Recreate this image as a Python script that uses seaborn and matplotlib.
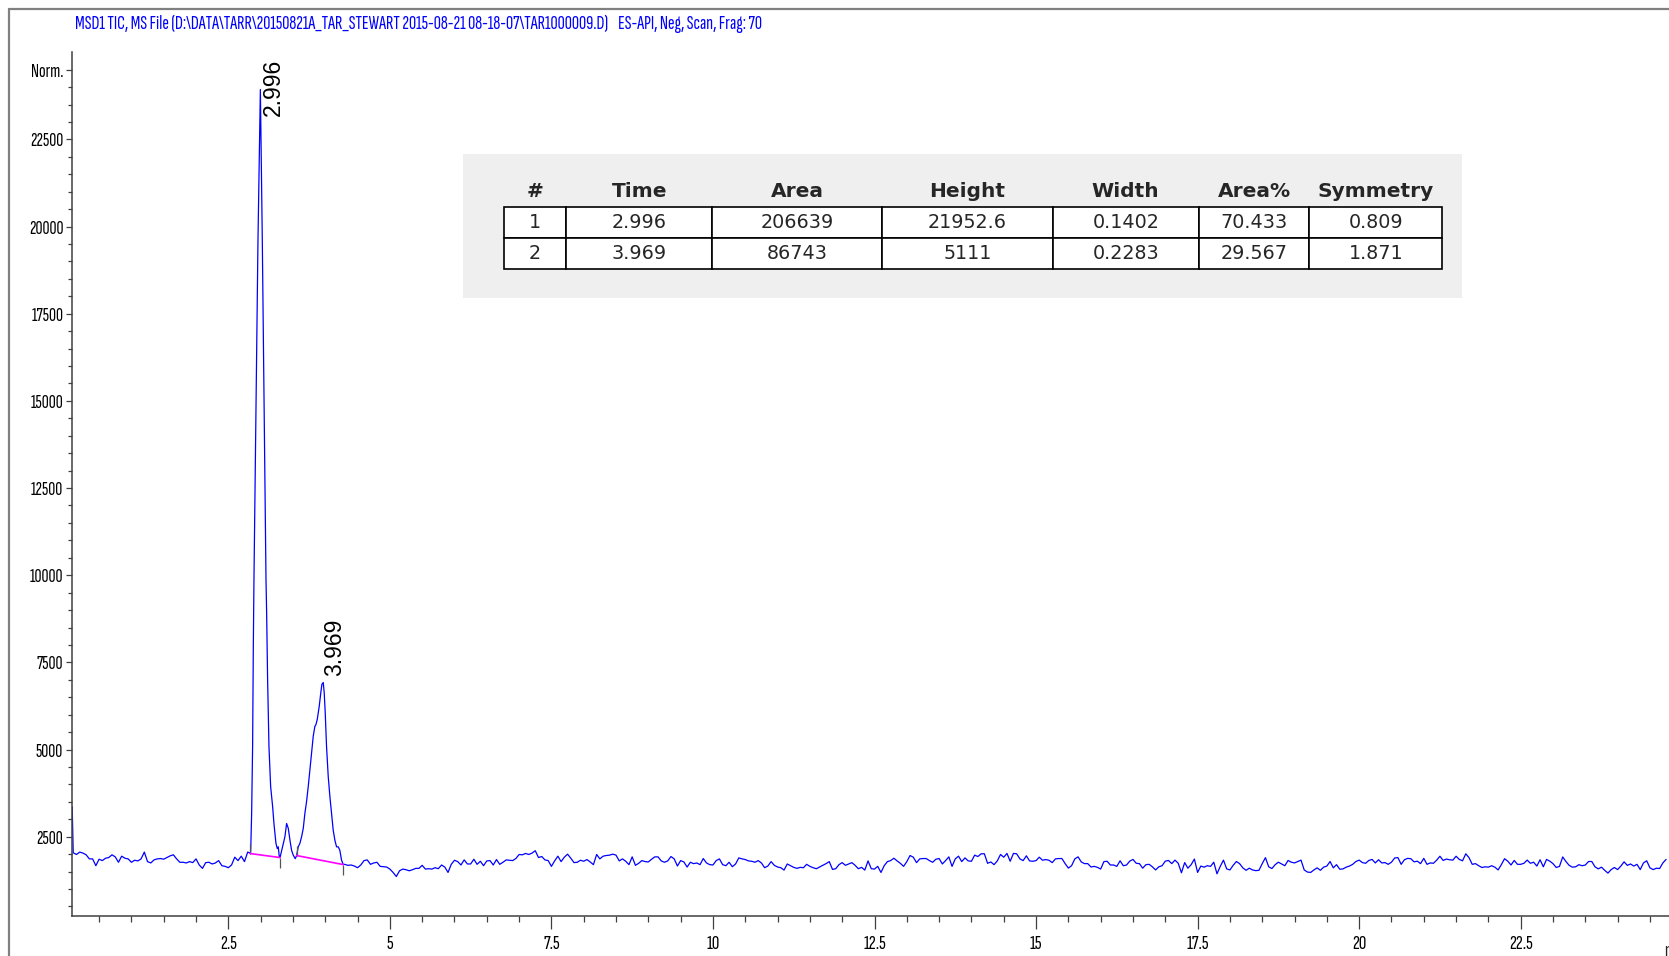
import numpy as np
import pandas as pd
import matplotlib
matplotlib.use("Agg")
import matplotlib.pyplot as plt
from matplotlib.lines import Line2D
from matplotlib.patches import Rectangle
from matplotlib.ticker import MultipleLocator, FixedLocator, FixedFormatter, FuncFormatter
import seaborn as sns

# ---------------------------------------------------------------- data
TITLE = ("MSD1 TIC, MS File (D:\\DATA\\TARR\\20150821A_TAR_STEWART 2015-08-21 "
         "08-18-07\\TAR1000009.D)    ES-API, Neg, Scan, Frag: 70")

scan_step = 0.05  # min between stored TIC points on the flat stretches

first_scan_time = 0.084
first_scan_signal = 3360

# TIC before the peaks, 0.10 .. 2.80 min
tic_early = [2039, 1990, 2059, 2030, 1981, 1864, 1864, 1669, 1855, 1815,
             1883, 1903, 1981, 1922, 1767, 1942, 1883, 1864, 1767, 1825,
             1806, 1864, 2059, 1786, 1747, 1835, 1864, 1874, 1855, 1903,
             1951, 1981, 1864, 1767, 1767, 1747, 1786, 1757, 1864, 1689,
             1592, 1757, 1767, 1718, 1747, 1815, 1669, 1650, 1611, 1689,
             1913, 1815, 1942, 1786, 2059]

# TIC across the two integrated peaks
peak_times = [2.835, 2.846, 2.861, 2.876, 2.887, 2.897, 2.959, 2.996, 3.026,
              3.083, 3.093, 3.108, 3.129, 3.155, 3.186, 3.206, 3.237, 3.258,
              3.273, 3.289, 3.299, 3.309, 3.340, 3.376, 3.402, 3.428, 3.454,
              3.479, 3.505, 3.536, 3.557, 3.582, 3.608, 3.634, 3.660, 3.685,
              3.711, 3.737, 3.763, 3.789, 3.814, 3.840, 3.855, 3.876, 3.907,
              3.928, 3.948, 3.969, 3.984, 4.000, 4.020, 4.046, 4.072, 4.098,
              4.123, 4.149, 4.175, 4.201, 4.226, 4.252, 4.278]
peak_signal = [2030, 2060, 3170, 5090, 7970, 9890, 19600, 23931, 19600,
               9890, 8930, 7010, 5090, 3940, 3360, 2880, 2310, 2160,
               2210, 1920, 1903, 1970, 2210, 2500, 2880, 2740, 2400,
               2110, 1970, 1870, 1960, 2210, 2310, 2500, 2740, 3170,
               3510, 3940, 4420, 4900, 5380, 5670, 5710, 5860, 6240,
               6580, 6870, 6923, 6630, 6050, 5090, 4230, 3650, 3170,
               2690, 2400, 2210, 2210, 2110, 1830, 1701]

# TIC after the peaks, 4.30 .. 24.75 min
tic_late = [
    1708, 1679, 1689, 1660, 1611, 1689, 1815, 1835, 1708, 1747,
    1767, 1650, 1640, 1630, 1572, 1475, 1358, 1523, 1572, 1553,
    1523, 1553, 1592, 1592, 1679, 1572, 1582, 1572, 1611, 1582,
    1689, 1630, 1475, 1708, 1825, 1786, 1689, 1835, 1718, 1718,
    1854, 1708, 1796, 1669, 1806, 1815, 1689, 1845, 1708, 1767,
    1835, 1825, 1815, 1874, 1990, 1981, 2020, 1990, 2030, 2098,
    1903, 1932, 1835, 1815, 1650, 1806, 1942, 1786, 1913, 2000,
    1883, 1757, 1767, 1825, 1796, 1845, 1776, 1699, 1990,
    1864, 1942, 1961, 1971, 2000, 1971, 1806, 1864, 1796, 1699,
    1922, 1679, 1737, 1815, 1786, 1776, 1854, 1922, 1922, 1806,
    1767, 1806, 1932, 1864, 1660, 1815, 1776, 1631, 1767, 1728,
    1747, 1699, 1874, 1747, 1699, 1689, 1815, 1864, 1699, 1669,
    1767, 1640, 1718, 1893, 1864, 1845, 1806, 1796, 1767, 1815,
    1747, 1611, 1660, 1786, 1679, 1631, 1611, 1543, 1718, 1669,
    1621, 1592, 1621, 1611, 1708, 1650, 1611, 1582, 1630, 1679,
    1728, 1786, 1562, 1582, 1699, 1757, 1679, 1718, 1757, 1679,
    1582, 1621, 1543, 1806, 1582, 1572, 1650, 1475, 1669, 1786,
    1815, 1883, 1806, 1737, 1650, 1786, 1961, 1913, 1757, 1864,
    1874, 1874, 1815, 1767, 1854, 1874, 1718, 1815, 1922, 1650,
    1864, 1942, 1786, 1893, 1806, 1796, 1971, 1932, 2010, 2010,
    1737, 1776, 1699, 1806, 1990, 1913, 2020, 1796, 2020, 2010,
    1864, 1815, 1952, 1806, 1796, 1815, 1913, 1825, 1845, 1825,
    1757, 1864, 1874, 1874, 1728, 1601, 1669, 1864, 1922, 1776,
    1728, 1728, 1631, 1650, 1621, 1572, 1786, 1796, 1689, 1689,
    1650,
    1809, 1668, 1688, 1799, 1849, 1738, 1728, 1597, 1698, 1708,
    1637, 1547, 1637, 1668, 1799, 1819, 1728, 1829, 1738, 1466,
    1758, 1597, 1698, 1859, 1476, 1658, 1627, 1668, 1648, 1769,
    1436, 1648, 1829, 1577, 1547, 1678, 1789, 1728, 1607, 1537,
    1597, 1547, 1527, 1537, 1728, 1900, 1637, 1587, 1698, 1769,
    1718, 1668, 1819, 1769, 1748, 1789, 1829, 1547, 1486, 1476,
    1547, 1607, 1537, 1627, 1658, 1789, 1607, 1698, 1567, 1577,
    1627, 1658, 1708, 1789, 1829, 1758, 1738, 1819, 1849, 1748,
    1839, 1748, 1758, 1708, 1769, 1890, 1900, 1708, 1839, 1879,
    1869, 1779, 1799, 1728, 1879, 1708, 1748, 1738, 1829, 1940,
    1819, 1859, 1839, 1829, 1940, 1849, 1809, 2010, 1900, 1708,
    1728, 1668, 1617, 1637, 1627, 1668, 1627, 1547, 1698, 1869,
    1799, 1688, 1819, 1708, 1708, 1738, 1829, 1738, 1769, 1658,
    1839, 1637, 1849, 1799, 1728, 1617, 1648, 1920, 1789, 1678,
    1627, 1637, 1698, 1668, 1688, 1789, 1789, 1637, 1577, 1627,
    1537, 1456, 1557, 1617, 1557, 1658, 1779, 1678, 1718, 1658,
    1708, 1557, 1748, 1809, 1607, 1557, 1597, 1587, 1748, 1849,
]

# integration baselines (start / end of each peak)
peak_start_time = [2.835, 3.557]
peak_start_level = [2018, 1960]
peak_end_time = [3.299, 4.278]
peak_end_level = [1903, 1701]

# integration report
table_header = ["#", "Time", "Area", "Height", "Width", "Area%", "Symmetry"]
peak_no = [1, 2]
ret_time = [2.996, 3.969]
peak_area = [206639, 86743]
peak_height = [21952.6, 5111]
peak_width = [0.1402, 0.2283]
area_pct = [70.433, 29.567]
symmetry = [0.809, 1.871]
apex_signal = [23931, 6923]

y_major = [2500, 5000, 7500, 10000, 12500, 15000, 17500, 20000, 22500, 24500]
y_labels = ["2500", "5000", "7500", "10000", "12500", "15000", "17500",
            "20000", "22500", "Norm."]

# ---------------------------------------------------------------- frame
t_early = 0.10 + scan_step * np.arange(len(tic_early))
t_late = 4.30 + scan_step * np.arange(len(tic_late))
tic = pd.DataFrame({
    "time": np.concatenate([[first_scan_time], t_early, peak_times, t_late]),
    "signal": np.concatenate([[first_scan_signal], tic_early, peak_signal, tic_late]),
})

sns.set_style("white")
NARROW = ["Sofia Sans Extra Condensed", "Pathway Gothic One", "DejaVu Sans"]
plt.rcParams["font.family"] = NARROW

W, H = 1669, 956
fig = plt.figure(figsize=(W / 100, H / 100), dpi=100)
fig.patch.set_facecolor("white")

# plot area in pixels: x from 72 to 1681.6, y from 52.4 to 916 (top-down)
ax = fig.add_axes([72 / W, (H - 916) / H, 1609.6 / W, (916 - 52.4) / H])
ax.set_zorder(0)
sns.lineplot(data=tic, x="time", y="signal", ax=ax, color="#0000ff",
             linewidth=0.9, estimator=None, sort=True)
ax.set_xlim(0.081, 24.99)
ax.set_ylim(226, 24995)
ax.set_xlabel("")
ax.set_ylabel("")
ax.set_facecolor("white")

for side in ("top", "right"):
    ax.spines[side].set_visible(False)
for side in ("left", "bottom"):
    ax.spines[side].set_color("#404040")
    ax.spines[side].set_linewidth(1.1)

ax.xaxis.set_major_locator(MultipleLocator(2.5))
ax.xaxis.set_minor_locator(MultipleLocator(0.5))
ax.xaxis.set_major_formatter(FuncFormatter(lambda v, p: f"{v:g}"))
ax.yaxis.set_major_locator(FixedLocator(y_major))
ax.yaxis.set_major_formatter(FixedFormatter(y_labels))
ax.yaxis.set_minor_locator(MultipleLocator(500))

ax.tick_params(axis="both", which="both", color="#404040", width=0.9,
               labelcolor="black", bottom=True, left=True, direction="out")
ax.tick_params(axis="x", which="major", length=9.4, pad=4, labelsize=15)
ax.tick_params(axis="x", which="minor", length=4.3)
ax.tick_params(axis="y", which="major", length=4.3, pad=2, labelsize=14)
ax.tick_params(axis="y", which="minor", length=2.9)

ax.text(24.72, -35 / 863.6, "min", transform=ax.get_xaxis_transform(),
        ha="left", va="center", fontsize=15, clip_on=False)

# integration baselines and boundary markers
for t0, v0, t1, v1 in zip(peak_start_time, peak_start_level,
                          peak_end_time, peak_end_level):
    ax.plot([t0, t1], [v0, v1], color="#ff00ff", linewidth=1.2, zorder=3)
ax.vlines(peak_start_time, peak_start_level,
          [v + 260 for v in peak_start_level], color="#555555", linewidth=0.9)
ax.vlines(peak_end_time, peak_end_level,
          [v - 300 for v in peak_end_level], color="#555555", linewidth=0.9)

# retention time labels over the apexes
label_offsets = [(1.0, -19), (0.0, 5)]
for t, v, off in zip(ret_time, apex_signal, label_offsets):
    ax.annotate(f"{t:.3f}", xy=(t, v), xytext=off, textcoords="offset points",
                rotation=90, ha="left", va="bottom", fontsize=16.5,
                family=["Liberation Sans", "DejaVu Sans"], color="black")

# header line and outer frame
fig.text(74.5 / W, 1 - 23.4 / H, TITLE, color="#0000ff", fontsize=14.3,
         ha="left", va="center")
fig.add_artist(Line2D([8.5 / W, 1.0], [1 - 8.5 / H, 1 - 8.5 / H],
                      color="#808080", linewidth=1.6))
fig.add_artist(Line2D([8.5 / W, 8.5 / W], [0.0, 1 - 8.5 / H],
                      color="#808080", linewidth=1.6))

# integration report box
fig.add_artist(Rectangle((463 / W, 1 - 298 / H), (1461.5 - 463) / W,
                         (298 - 154.3) / H, transform=fig.transFigure,
                         facecolor="#efefef", edgecolor="none", zorder=1))
tax = fig.add_axes([503.5 / W, 1 - 269.3 / H, (1442.3 - 503.5) / W,
                    (269.3 - 175.4) / H])
tax.set_zorder(2)
tax.axis("off")
rows = [[f"{n}", f"{a:g}", f"{b:g}", f"{c:g}", f"{d:g}", f"{e:g}", f"{f:g}"]
        for n, a, b, c, d, e, f in zip(peak_no, ret_time, peak_area,
                                       peak_height, peak_width, area_pct,
                                       symmetry)]
col_px = [62.8, 146.0, 169.9, 170.5, 146.0, 110.6, 133.0]
col_w = [c / sum(col_px) for c in col_px]
tbl = tax.table(cellText=rows, colLabels=table_header, colWidths=col_w,
                cellLoc="center", bbox=[0, 0, 1, 1])
tbl.auto_set_font_size(False)
for (r, c), cell in tbl.get_celld().items():
    txt = cell.get_text()
    txt.set_fontfamily("DejaVu Sans")
    if r == 0:
        cell.visible_edges = "open"
        cell.set_facecolor("none")
        txt.set_fontweight("bold")
        txt.set_fontsize(14.5)
    else:
        cell.set_facecolor("white")
        cell.set_edgecolor("black")
        cell.set_linewidth(1.2)
        txt.set_fontsize(13.8)

fig.savefig("out.png", dpi=100)
